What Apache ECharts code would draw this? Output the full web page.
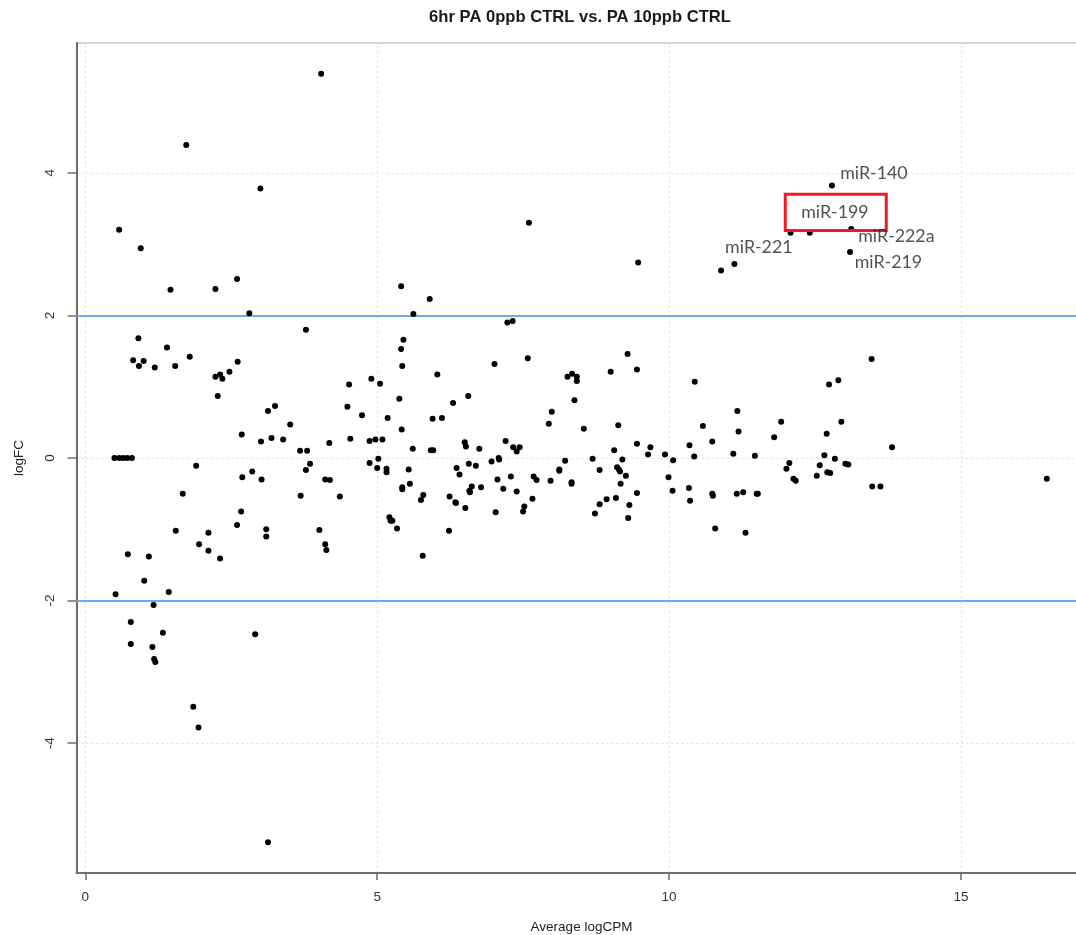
<!DOCTYPE html>
<html><head><meta charset="utf-8">
<script src="https://cdn.jsdelivr.net/npm/echarts@6/dist/echarts.min.js"></script>
<style>html,body{margin:0;padding:0;background:#fff}#c{width:1076px;height:935px}</style>
</head><body><div id="c"></div><script>
// ---- data ----
const chartTitle = '6hr PA 0ppb CTRL vs. PA 10ppb CTRL';
const xName = 'Average logCPM';
const yName = 'logFC';
const xTicks = [0, 5, 10, 15];
const yTicks = [-4, -2, 0, 2, 4];
const thresholds = [-2, 2];

const logCPM = [
  4.04,1.73,3.00,0.58,0.95,7.60,12.79,12.08,12.41,13.12,13.10,11.12,10.89,9.47,2.60,1.46,2.23,5.41,5.90,2.81,5.62,
  3.78,1.79,2.23,2.31,2.35,2.47,2.61,2.27,5.41,5.45,5.43,5.38,5.42,4.52,4.90,5.05,4.49,4.74,5.18,3.13,3.25,3.51,2.68,3.01,3.19,3.39,3.68,3.80,4.18,4.54,4.87,4.97,5.09,
  1.90,1.67,2.69,2.86,3.02,3.85,3.78,4.11,4.19,3.69,4.36,4.87,5.02,5.00,5.16,5.16,5.54,5.43,5.43,5.56,2.67,2.60,3.10,3.10,2.11,1.95,2.11,2.31,4.01,4.11,4.13,5.21,5.23,5.26,5.34,
  0.91,1.40,0.82,1.00,0.92,1.19,1.54,0.50,0.58,0.65,0.72,0.80,1.55,0.73,1.09,1.01,1.43,0.52,1.17,
  0.78,1.33,0.78,1.15,1.18,1.20,2.91,1.85,1.94,3.13,
  7.23,7.32,6.03,7.01,7.58,9.29,9.00,8.26,8.34,8.42,8.42,8.38,6.56,6.30,5.95,6.11,7.99,7.94,8.54,9.13,5.61,5.92,5.96,6.50,6.52,6.75,7.20,7.33,7.44,7.39,
  6.96,7.08,7.09,6.36,6.41,6.57,6.69,6.62,6.78,6.58,6.59,6.24,6.34,6.35,5.75,5.79,6.51,6.23,5.78,7.06,7.29,7.16,7.39,7.03,7.52,7.50,7.66,7.68,7.73,7.97,
  8.12,8.12,8.22,8.33,8.33,8.69,8.81,9.06,9.20,9.11,9.14,9.16,9.26,9.17,8.73,8.81,8.93,9.09,9.32,9.30,
  9.45,10.44,11.17,10.58,11.92,11.80,12.74,12.90,12.95,12.70,11.19,10.74,10.35,9.45,9.68,9.64,9.93,10.07,10.43,11.10,11.47,12.66,12.84,13.02,13.07,
  12.06,12.01,12.58,12.53,12.71,12.76,12.13,12.17,9.99,10.06,9.45,10.34,10.36,10.74,10.75,10.79,11.16,11.27,11.50,11.52,11.31,
  13.47,13.82,13.48,13.62,16.47
];
const logFC = [
  5.39,4.39,3.78,3.20,2.94,3.30,3.82,3.16,3.16,3.21,2.89,2.72,2.63,2.74,2.51,2.36,2.37,2.41,2.23,2.03,2.02,
  1.80,1.42,1.14,1.17,1.11,1.21,1.35,0.87,1.53,1.66,1.29,0.83,0.40,1.03,1.11,1.04,0.72,0.60,0.56,0.66,0.73,0.47,0.33,0.23,0.28,0.26,0.10,0.10,0.21,0.27,0.24,0.26,0.26,
  -0.11,-0.50,-0.27,-0.19,-0.30,-0.08,-0.17,-0.30,-0.31,-0.53,-0.54,-0.07,-0.01,-0.14,-0.15,-0.20,-0.16,-0.41,-0.44,-0.36,-0.75,-0.94,-1.00,-1.10,-1.05,-1.21,-1.30,-1.41,-1.01,-1.21,-1.29,-0.83,-0.88,-0.88,-0.99,
  1.68,1.55,1.37,1.36,1.29,1.27,1.29,0,0,0,0,0,-1.02,-1.35,-1.38,-1.72,-1.88,-1.91,-2.06,
  -2.30,-2.45,-2.61,-2.65,-2.82,-2.86,-2.47,-3.49,-3.78,-5.39,
  1.90,1.92,1.17,1.32,1.40,1.46,1.21,1.14,1.18,1.14,1.08,0.81,0.87,0.77,0.55,0.56,0.65,0.48,0.41,0.46,0.13,0.11,0.11,0.22,0.16,0.13,0.24,0.15,0.15,0.09,
  -0.05,0.00,-0.02,-0.14,-0.23,-0.08,-0.11,-0.40,-0.41,-0.46,-0.48,-0.54,-0.62,-0.63,-0.59,-0.52,-0.70,-1.02,-1.37,-0.30,-0.26,-0.43,-0.47,-0.76,-0.68,-0.75,-0.57,-0.26,-0.31,-0.32,
  -0.16,-0.18,-0.04,-0.34,-0.36,-0.01,-0.17,0.11,-0.02,-0.13,-0.16,-0.19,-0.25,-0.36,-0.78,-0.65,-0.58,-0.56,-0.66,-0.84,
  1.24,1.07,0.66,0.45,0.51,0.29,1.03,1.09,0.51,0.34,0.37,0.23,0.18,0.20,0.15,0.05,0.05,-0.03,0.02,0.06,0.03,0.04,-0.01,-0.08,-0.09,
  -0.07,-0.15,-0.10,-0.25,-0.20,-0.21,-0.29,-0.32,-0.27,-0.46,-0.49,-0.42,-0.60,-0.50,-0.53,-0.99,-0.50,-0.48,-0.50,-0.50,-1.05,
  1.39,0.15,-0.40,-0.40,-0.29
];

// annotation labels (anchor in data units)
const noteNames = ['miR-140', 'miR-199', 'miR-222a', 'miR-221', 'miR-219'];
const noteX = [12.93, 12.84, 13.24, 10.96, 13.18];
const noteY = [4.00, 3.44, 3.11, 2.96, 2.75];
const noteAnchor = ['right', 'inside', 'right', 'right', 'right'];
const boxFrom = [11.99, 3.70];
const boxTo = [13.72, 3.19];

// ---- chart ----
const sans = "'Liberation Sans', Arial, sans-serif";
const points = logCPM.map((x, i) => [x, logFC[i]]);
const notes = noteNames.map((n, i) => ({
  name: n, value: [noteX[i], noteY[i]],
  label: { position: noteAnchor[i], distance: 0 }
}));

const chart = echarts.init(document.getElementById('c'), null, { renderer: 'canvas' });
chart.setOption({
  animation: false,
  backgroundColor: '#ffffff',
  graphic: [{
    type: 'text', x: 580, y: 9,
    style: { text: chartTitle, font: "bold 16.6px 'Liberation Sans', Arial, sans-serif", fill: '#1a1a1a', align: 'center', verticalAlign: 'top' }
  }],
  grid: { left: 76.5, top: 43, width: 1010, height: 830, outerBoundsMode: 'none', containLabel: false,
          show: true, borderColor: '#aaaaaa', borderWidth: 1.2, backgroundColor: 'transparent' },
  xAxis: {
    type: 'value', min: -0.15, max: 17.15,
    name: xName, nameLocation: 'middle', nameGap: 47,
    nameTextStyle: { fontFamily: sans, fontSize: 13.5, color: '#222' },
    axisLine: { show: true, onZero: false, lineStyle: { color: '#6e6e6e', width: 2 } },
    axisTick: { show: true, length: 7, customValues: xTicks, lineStyle: { color: '#6e6e6e', width: 1.5 } },
    axisLabel: { customValues: xTicks, margin: 17, fontFamily: sans, fontSize: 13.5, color: '#333' },
    splitLine: { show: false }
  },
  yAxis: {
    type: 'value', min: -5.82, max: 5.82,
    name: yName, nameLocation: 'middle', nameGap: 50, nameRotate: 90,
    nameTextStyle: { fontFamily: sans, fontSize: 13.5, color: '#222' },
    axisLine: { show: true, onZero: false, lineStyle: { color: '#6e6e6e', width: 2 } },
    axisTick: { show: true, length: 9, customValues: yTicks, lineStyle: { color: '#6e6e6e', width: 1.5 } },
    axisLabel: { customValues: yTicks, rotate: 90, margin: 19, fontFamily: sans, fontSize: 13.5, color: '#333' },
    splitLine: { show: false }
  },
  series: [
    {
      type: 'scatter', data: [], silent: true, z: 0,
      markLine: {
        silent: true, z: 0, symbol: ['none', 'none'], label: { show: false },
        lineStyle: { color: '#dcdcdc', type: [2, 3], width: 1 },
        data: xTicks.map(v => ({ xAxis: v })).concat(yTicks.map(v => ({ yAxis: v })))
      }
    },
    {
      type: 'scatter', data: [], silent: true, z: 1,
      markLine: {
        silent: true, z: 1, symbol: ['none', 'none'], label: { show: false },
        lineStyle: { color: '#6aaaf0', type: 'solid', width: 2 },
        data: thresholds.map(v => ({ yAxis: v }))
      }
    },
    {
      type: 'scatter', data: points, symbol: 'circle', symbolSize: 6, z: 3,
      itemStyle: { color: '#000000', opacity: 1 }, silent: true
    },
    {
      type: 'scatter', data: notes, symbolSize: 0, silent: true, z: 4,
      label: { show: true, formatter: '{b}', fontFamily: "Lato, 'Open Sans', sans-serif", fontSize: 17.8, color: '#262626' },
      markArea: {
        silent: true, z: 4,
        itemStyle: { color: 'rgba(0,0,0,0)', borderColor: '#ee1c24', borderWidth: 3 },
        data: [[{ coord: boxFrom }, { coord: boxTo }]]
      }
    }
  ]
});
</script></body></html>
